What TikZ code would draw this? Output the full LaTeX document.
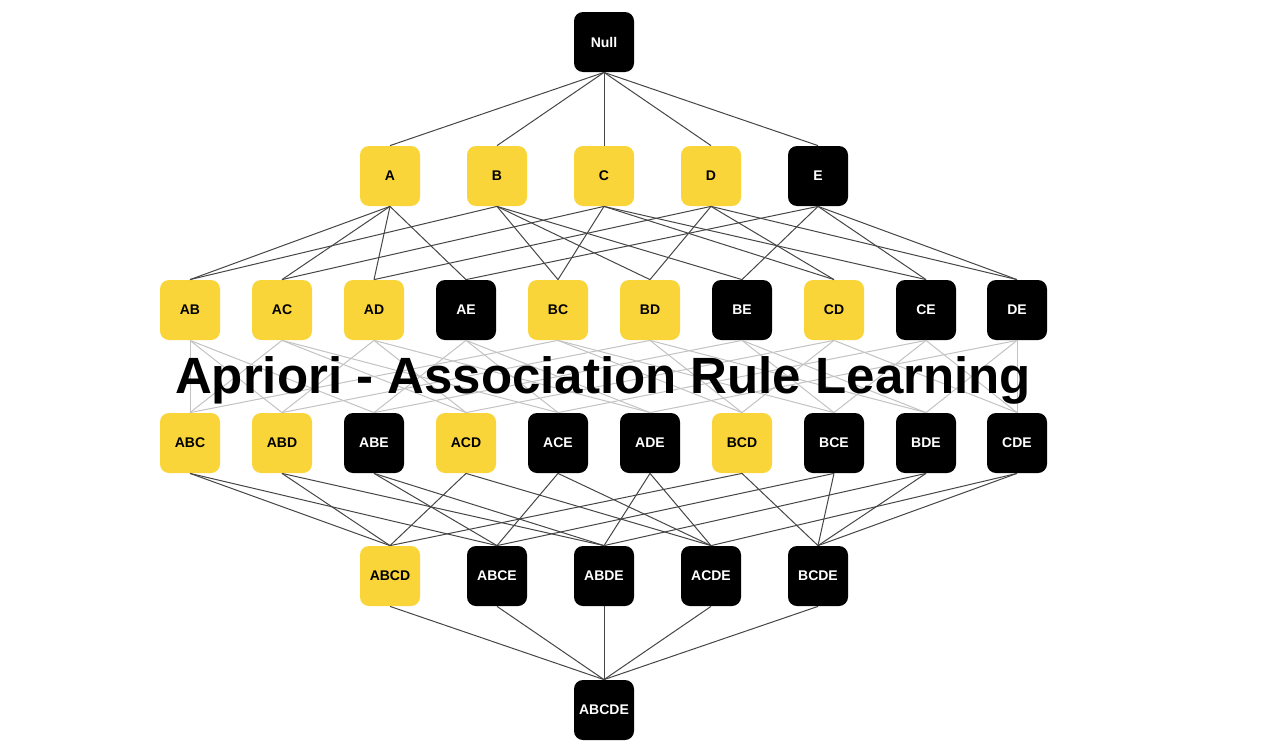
\documentclass[tikz,border=0pt]{standalone}
\usepackage{fontspec}
\setmainfont{Liberation Sans}
\definecolor{setyellow}{RGB}{250,213,58}
\definecolor{edgedark}{RGB}{70,70,70}
\definecolor{edgelight}{RGB}{195,195,195}
\begin{document}
\begin{tikzpicture}[x=0.5pt,y=-0.5pt,
  itemset/.style={rounded corners=4.5pt,minimum width=30pt,minimum height=30pt,inner sep=0pt,
    font=\fontsize{7}{8}\selectfont\bfseries},
  freq/.style={itemset,fill=setyellow,text=black},
  infreq/.style={itemset,fill=black,text=white},
  link/.style={draw=edgedark,line width=0.5pt},
  faint/.style={draw=edgelight,line width=0.5pt}]
\useasboundingbox (0,0) rectangle (1280,744);
\fill[white] (0,0) rectangle (1280,744);

% level 0
\node[infreq] (N) at (604,42) {Null};
% level 1
\node[freq]   (A) at (390,176) {A};
\node[freq]   (B) at (497,176) {B};
\node[freq]   (C) at (604,176) {C};
\node[freq]   (D) at (711,176) {D};
\node[infreq] (E) at (818,176) {E};
% level 2
\node[freq]   (AB) at (190,310) {AB};
\node[freq]   (AC) at (282,310) {AC};
\node[freq]   (AD) at (374,310) {AD};
\node[infreq] (AE) at (466,310) {AE};
\node[freq]   (BC) at (558,310) {BC};
\node[freq]   (BD) at (650,310) {BD};
\node[infreq] (BE) at (742,310) {BE};
\node[freq]   (CD) at (834,310) {CD};
\node[infreq] (CE) at (926,310) {CE};
\node[infreq] (DE) at (1017,310) {DE};
% level 3
\node[freq]   (ABC) at (190,443) {ABC};
\node[freq]   (ABD) at (282,443) {ABD};
\node[infreq] (ABE) at (374,443) {ABE};
\node[freq]   (ACD) at (466,443) {ACD};
\node[infreq] (ACE) at (558,443) {ACE};
\node[infreq] (ADE) at (650,443) {ADE};
\node[freq]   (BCD) at (742,443) {BCD};
\node[infreq] (BCE) at (834,443) {BCE};
\node[infreq] (BDE) at (926,443) {BDE};
\node[infreq] (CDE) at (1017,443) {CDE};
% level 4
\node[freq]   (ABCD) at (390,576) {ABCD};
\node[infreq] (ABCE) at (497,576) {ABCE};
\node[infreq] (ABDE) at (604,576) {ABDE};
\node[infreq] (ACDE) at (711,576) {ACDE};
\node[infreq] (BCDE) at (818,576) {BCDE};
% level 5
\node[infreq] (ABCDE) at (604,710) {ABCDE};

% lattice edges: subset -> superset
\foreach \c in {A,B,C,D,E}
  \draw[link] (N.south) -- (\c.north);
\foreach \p/\c in {A/AB,B/AB,A/AC,C/AC,A/AD,D/AD,A/AE,E/AE,B/BC,C/BC,B/BD,D/BD,B/BE,E/BE,C/CD,D/CD,C/CE,E/CE,D/DE,E/DE}
  \draw[link] (\p.south) -- (\c.north);
\foreach \p/\c in {AB/ABC,AC/ABC,BC/ABC,AB/ABD,AD/ABD,BD/ABD,AB/ABE,AE/ABE,BE/ABE,
                   AC/ACD,AD/ACD,CD/ACD,AC/ACE,AE/ACE,CE/ACE,AD/ADE,AE/ADE,DE/ADE,
                   BC/BCD,BD/BCD,CD/BCD,BC/BCE,BE/BCE,CE/BCE,BD/BDE,BE/BDE,DE/BDE,
                   CD/CDE,CE/CDE,DE/CDE}
  \draw[faint] (\p.south) -- (\c.north);
\foreach \p/\c in {ABC/ABCD,ABD/ABCD,ACD/ABCD,BCD/ABCD,ABC/ABCE,ABE/ABCE,ACE/ABCE,BCE/ABCE,
                   ABD/ABDE,ABE/ABDE,ADE/ABDE,BDE/ABDE,ACD/ACDE,ACE/ACDE,ADE/ACDE,CDE/ACDE,
                   BCD/BCDE,BCE/BCDE,BDE/BCDE,CDE/BCDE}
  \draw[link] (\p.south) -- (\c.north);
\foreach \p in {ABCD,ABCE,ABDE,ACDE,BCDE}
  \draw[link] (\p.south) -- (ABCDE.north);

% title over the lattice
\node[anchor=base,inner sep=0pt,font=\fontsize{25.5}{28}\selectfont\bfseries] (title) at (603,393)
  {Apriori - Association Rule Learning};
\end{tikzpicture}
\end{document}
